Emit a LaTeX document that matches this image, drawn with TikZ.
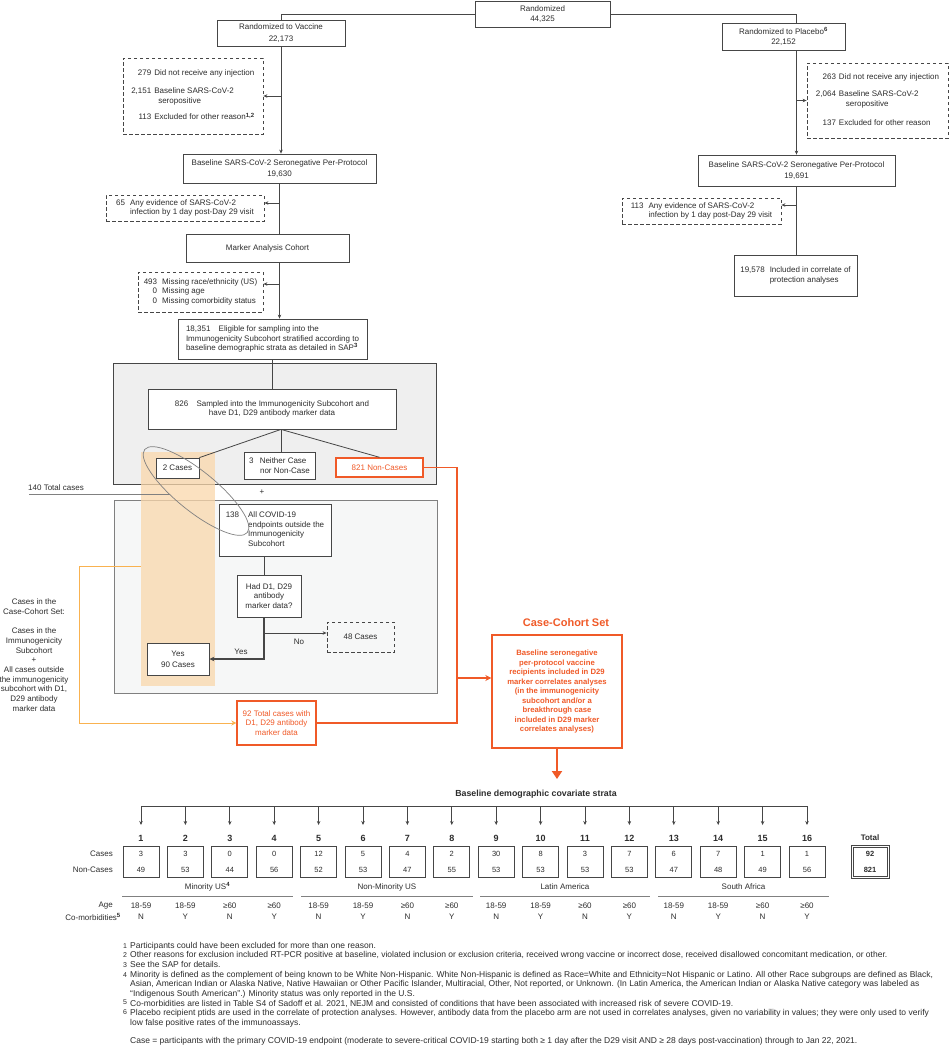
\documentclass[tikz,border=0pt]{standalone}
\usepackage{fontspec}
\setmainfont{Liberation Sans}
\usetikzlibrary{arrows.meta,calc}
\definecolor{orng}{RGB}{240,90,40}
\definecolor{lorng}{RGB}{249,178,80}
\definecolor{bandc}{RGB}{250,216,172}
\definecolor{txt}{RGB}{45,45,45}
\definecolor{bord}{RGB}{70,70,70}
\definecolor{greyA}{RGB}{239,239,239}
\definecolor{greyB}{RGB}{246,247,247}
\newcommand\myfs[2]{\fontsize{#1}{#2}\selectfont}
\newcommand\sups[1]{\textsuperscript{\textbf{#1}}}
\begin{document}
\begin{tikzpicture}[x=1pt,y=-1pt,
  every node/.style={font=\myfs{8}{9.7}, text=txt, inner sep=0pt},
  sz/.style 2 args={minimum width=#1pt, minimum height=#2pt},
  box/.style={draw=bord, line width=0.8pt, fill=white, align=center},
  dbox/.style={draw=bord, line width=0.8pt, dash pattern=on 3.5pt off 2.5pt, align=center},
  obox/.style={draw=orng, line width=1.4pt, fill=white, align=center, text=orng},
  tbox/.style={draw=bord, line width=0.8pt, fill=white, align=center, font=\myfs{7.5}{16}},
  ln/.style={draw=bord, line width=0.8pt},
  ar/.style={ln, -{Stealth[length=4pt,width=3.5pt]}},
  oln/.style={draw=orng, line width=1.4pt},
  oar/.style={oln, -{Stealth[length=6pt,width=6pt]}},
  lar/.style={draw=lorng, line width=1pt, -{Stealth[length=5pt,width=5pt]}},
  gline/.style={draw=gray, line width=0.8pt},
  fn/.style={anchor=base west, font=\myfs{8.5}{9.7}},
  fnum/.style={anchor=base west, font=\myfs{7}{9}}
]
\useasboundingbox (0,0) rectangle (949,1050);
\fill[white] (0,0) rectangle (949,1050);

% containers
\node[draw=bord, line width=0.9pt, fill=greyA, sz={323}{121}] (g1) at (274.5,423.5) {};
\node[draw=gray, line width=0.9pt, fill=greyB, sz={323}{193}] (g2) at (275.5,596.5) {};
\node[fill=bandc, fill opacity=0.75, sz={74}{234}] (band) at (178,569) {};

% top part
\node[box, sz={135}{26}, font=\myfs{8}{10}] (rand) at (542.5,14) {Randomized\\44,325};
\node[box, sz={128}{26}, font=\myfs{8}{11.5}] (vac) at (281,33) {Randomized to Vaccine\\22,173};
\node[box, sz={123}{27}, font=\myfs{8}{10.5}] (plac) at (783.5,36.5) {Randomized to Placebo\sups{6}\\22,152};

\node[dbox, sz={140}{76}] (vexcl) at (193,96) {\begin{tabular}{@{}r@{\hspace{3pt}}l@{}}279 & Did not receive any injection\\[8.3pt] 2,151 & Baseline SARS-CoV-2\\ & \hspace{4pt}seropositive\\[6.3pt] 113 & Excluded for other reason\sups{1,2}\end{tabular}};
\node[dbox, sz={141}{75}] (pexcl) at (877.5,100.5) {\begin{tabular}{@{}r@{\hspace{3pt}}l@{}}263 & Did not receive any injection\\[7.3pt] 2,064 & Baseline SARS-CoV-2\\ & \hspace{7pt}seropositive\\[9.3pt] 137 & Excluded for other reason\end{tabular}};

\node[box, sz={193}{29}, font=\myfs{8}{11.7}] (vsp) at (279.5,168.5) {Baseline SARS-CoV-2 Seronegative Per-Protocol\\19,630};
\node[box, sz={197}{31}, font=\myfs{8}{11.7}] (psp) at (796.5,170.5) {Baseline SARS-CoV-2 Seronegative Per-Protocol\\19,691};

\node[dbox, sz={158}{26}] (vany) at (185,208) {\begin{tabular}{@{}l@{\hspace{5pt}}l@{}}65 & Any evidence of SARS-CoV-2\\ & infection by 1 day post-Day 29 visit\end{tabular}};
\node[dbox, sz={159}{26}] (pany) at (701.5,211) {\begin{tabular}{@{}l@{\hspace{5pt}}l@{}}113 & Any evidence of SARS-CoV-2\\ & infection by 1 day post-Day 29 visit\end{tabular}};
\node[box, sz={163}{28}] (mac) at (267.5,248) {Marker Analysis Cohort};
\node[dbox, sz={125}{40}] (vmiss) at (200.5,292) {\begin{tabular}{@{}r@{\hspace{5pt}}l@{}}493 & Missing race/ethnicity (US)\\ 0 & Missing age\\ 0 & Missing comorbidity status\end{tabular}};
\node[box, sz={123}{41}] (pinc) at (795.5,275.5) {\begin{tabular}{@{}l@{\hspace{5pt}}l@{}}19,578 & Included in correlate of\\ & protection analyses\end{tabular}};
\node[box, sz={189}{40}, align=left] (elig) at (272.5,339) {18,351\hspace{6pt} Eligible for sampling into the\\Immunogenicity Subcohort stratified according to\\baseline demographic strata as detailed in SAP\sups{3}};

% subcohort
\node[box, sz={248}{40}] (samp) at (272,409) {826\hspace{6pt} Sampled into the Immunogenicity Subcohort and\\have D1, D29 antibody marker data};
\node[box, sz={43}{20}] (c2) at (177.5,468) {2 Cases};
\node[box, sz={71}{27}, align=left] (nei) at (279.5,465.5) {3\hspace{4pt} Neither Case\\\hspace{11pt}nor Non-Case};
\node[obox, sz={87}{19}] (nonc) at (379.5,467.5) {821 Non-Cases};
\node (plus) at (262,492) {+};

% outside subcohort
\node[box, sz={112}{52}] (c138) at (275,530) {\begin{tabular}{@{}l@{\hspace{9pt}}l@{}}138 & All COVID-19\\ & endpoints outside the\\ & Immunogenicity\\ & Subcohort\end{tabular}};
\node[box, sz={64}{42}] (had) at (269,596) {Had D1, D29\\antibody\\marker data?};
\node[dbox, sz={67}{30}] (c48) at (360.5,637) {48 Cases};
\node[box, sz={62}{32}, font=\myfs{8}{11}] (yes) at (178,659) {Yes\\90 Cases};
\node (lno) at (299,642) {No};
\node (lyes) at (241,652) {Yes};

\node[obox, sz={79}{44}] (tot92) at (276.5,723) {92 Total cases with\\D1, D29 antibody\\marker data};
\node[text=orng, font=\bfseries\myfs{11}{12}] (cct) at (566,623) {Case-Cohort Set};
\node[obox, sz={130}{113}, font=\bfseries\myfs{7.7}{9.5}] (ccs) at (557,691.5) {Baseline seronegative\\per-protocol vaccine\\recipients included in D29\\marker correlates analyses\\(in the immunogenicity\\subcohort and/or a\\breakthrough case\\included in D29 marker\\correlates analyses)};

\node[align=center] (lefttxt) at (34,655) {Cases in the\\Case-Cohort Set:\\[9.7pt]Cases in the\\Immunogenicity\\Subcohort\\+\\All cases outside\\the immunogenicity\\subcohort with D1,\\D29 antibody\\marker data};
\node[anchor=base west] (t140) at (28,490) {140 Total cases};

% connectors
\draw[ln] (rand.west) -| (vac.north);
\draw[ln] (rand.east) -| (plac.north -| psp.north);
\draw[ar] (vac.south) -- (vac.south |- vsp.north);
\draw[ar] (vac.south |- vexcl.east) -- (vexcl.east);
\draw[ar] (plac.south -| psp.north) -- (psp.north);
\draw[ar] (psp.north |- pexcl.west) -- (pexcl.west);
\draw[ln] (psp.south) -- (psp.south |- pinc.north);
\path ([yshift=6pt]pany.east) coordinate (pae);
\draw[ar] (psp.south |- pae) -- (pae);
\draw[ln] (vsp.south) -- (vsp.south |- mac.north);
\path ([yshift=5pt]vany.east) coordinate (vae);
\draw[ar] (vsp.south |- vae) -- (vae);
\draw[ar] (vsp.south |- mac.south) -- (vsp.south |- elig.north);
\path ([yshift=8pt]vmiss.east) coordinate (vme);
\draw[ar] (vsp.south |- vme) -- (vme);
\draw[ln] (elig.south) -- (elig.south |- samp.north);
\coordinate (hub) at ($(samp.south)+(9,0)$);
\draw[ln] (hub) -- (c2.north east);
\draw[ln] (hub) -- (hub |- nei.north);
\draw[ln] (hub) -- (nonc.north);
\coordinate (vx) at (264,0);
\draw[ln] (c138.south -| vx) -- (had.north -| vx);
\draw[ln, line width=1.1pt, -{Stealth[length=5pt,width=4.5pt]}] (had.south -| vx) |- (yes.east);
\path ([yshift=4pt]c48.west) coordinate (c48w);
\draw[ar] (vx |- c48w) -- (c48w);

\coordinate (ox) at (457,0);
\draw[oln] (nonc.east) -| (ox |- tot92.east) -- (tot92.east);
\coordinate (oj) at (457,678);
\draw[oar] (oj) -- (oj -| ccs.west);
\coordinate (lx) at (79,566);
\draw[lar] (band.west |- lx) -- (lx) |- (tot92.west);
\coordinate (sa) at (557,779);
\draw[draw=orng, line width=2pt, -{Triangle[length=8pt,width=10pt]}] (ccs.south) -- (ccs.south |- sa);

% ellipse and 140 line
\draw[draw=gray, line width=0.7pt, rotate around={-39:(196,491)}] (196,491) ellipse [x radius=66pt, y radius=20pt];
\coordinate (l140a) at (29,494);
\coordinate (l140b) at (170,494);
\draw[gline] (l140a) -- (l140b);

% strata table
\node[font=\bfseries\myfs{8.8}{10}] (strata) at (536,794) {Baseline demographic covariate strata};
\foreach \i/\c/\n in {1/3/49, 2/3/53, 3/0/44, 4/0/56, 5/12/52, 6/5/53, 7/4/47, 8/2/55, 9/30/53, 10/8/53, 11/3/53, 12/7/53, 13/6/47, 14/7/48, 15/1/49, 16/1/56}{
  \pgfmathsetmacro\xx{141+(\i-1)*44.4}
  \pgfmathtruncatemacro\m{mod(\i-1,4)}
  \coordinate (bus\i) at (\xx,806);
  \coordinate (tip\i) at (\xx,825);
  \draw[ar] (bus\i) -- (tip\i);
  \node[font=\bfseries\myfs{9}{10}] (num\i) at (\xx,838) {\i};
  \node[tbox, sz={36}{31}] (sb\i) at (\xx,862) {\c\\\n};
  \node (age\i) at (\xx,906) {\ifcase\m\relax 18-59\or 18-59\or ≥60\or ≥60\fi};
  \node (com\i) at (\xx,917) {\ifodd\i\relax N\else Y\fi};
}
\draw[ln] (bus1) -- (bus16);
\node[font=\bfseries\myfs{8}{9}] (totl) at (870,838) {Total};
\node[draw=bord, line width=0.7pt, sz={38}{33}] (totbo) at (870,862) {};
\node[draw=bord, line width=0.7pt, sz={34}{29}, align=center, font=\bfseries\myfs{7.5}{16}] (totb) at (870,862) {92\\821};
\node[anchor=east] (lcases) at (113,854) {Cases};
\node[anchor=east] (lnon) at (113,870) {Non-Cases};
\node[anchor=east] (lage) at (113,906) {Age};
\node[anchor=east] (lcom) at (121,917) {Co-morbidities\sups{5}};

\draw[gline] (122,896) -- (293,896);
\draw[gline] (301,896) -- (473,896);
\draw[gline] (480,896) -- (650,896);
\draw[gline] (658,896) -- (829,896);
\node (gmin) at (207.5,887) {Minority US\sups{4}};
\node (gnon) at (387,887) {Non-Minority US};
\node (glat) at (565,887) {Latin America};
\node (gsa) at (743.5,887) {South Africa};

% footnotes
\node[fnum] (f1n) at (123,948) {1};
\node[fn] (f1) at (130,948) {Participants could have been excluded for more than one reason.};
\node[fnum] (f2n) at (123,957.7) {2};
\node[fn] (f2) at (130,957.7) {Other reasons for exclusion included RT-PCR positive at baseline, violated inclusion or exclusion criteria, received wrong vaccine or incorrect dose, received disallowed concomitant medication, or other.};
\node[fnum] (f3n) at (123,967.4) {3};
\node[fn] (f3) at (130,967.4) {See the SAP for details.};
\node[fnum] (f4n) at (123,977.1) {4};
\node[fn] (f4a) at (130,977.1) {Minority is defined as the complement of being known to be White Non-Hispanic. White Non-Hispanic is defined as Race=White and Ethnicity=Not Hispanic or Latino. All other Race subgroups are defined as Black,};
\node[fn] (f4b) at (130,986.8) {Asian, American Indian or Alaska Native, Native Hawaiian or Other Pacific Islander, Multiracial, Other, Not reported, or Unknown. (In Latin America, the American Indian or Alaska Native category was labeled as};
\node[fn] (f4c) at (130,996.5) {“Indigenous South American”.) Minority status was only reported in the U.S.};
\node[fnum] (f5n) at (123,1004.7) {5};
\node[fn] (f5) at (130,1006.2) {Co-morbidities are listed in Table S4 of Sadoff et al. 2021, NEJM and consisted of conditions that have been associated with increased risk of severe COVID-19.};
\node[fnum] (f6n) at (123,1014.4) {6};
\node[fn] (f6a) at (130,1015.9) {Placebo recipient ptids are used in the correlate of protection analyses. However, antibody data from the placebo arm are not used in correlates analyses, given no variability in values; they were only used to verify};
\node[fn] (f6b) at (130,1025.6) {low false positive rates of the immunoassays.};
\node[fn] (fcase) at (130,1043) {Case = participants with the primary COVID-19 endpoint (moderate to severe-critical COVID-19 starting both ≥ 1 day after the D29 visit AND ≥ 28 days post-vaccination) through to Jan 22, 2021.};
\end{tikzpicture}
\end{document}
